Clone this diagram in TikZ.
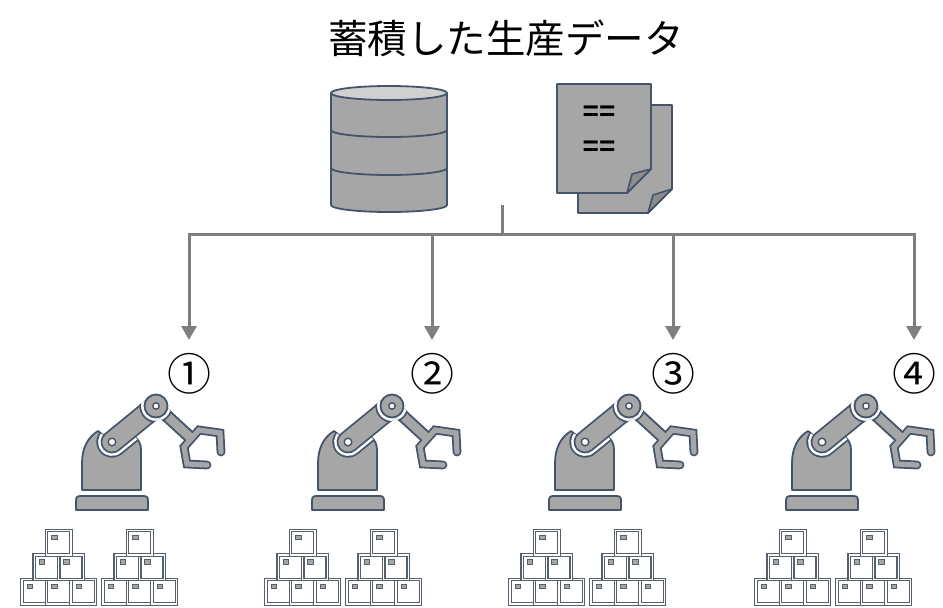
\documentclass[tikz,border=0pt]{standalone}
\usepackage{fontspec}
\newfontfamily\cjk{Noto Sans CJK JP}
\newfontfamily\latinsans{Liberation Sans}
\usetikzlibrary{arrows.meta}

\definecolor{partfill}{HTML}{A6A6A6}
\definecolor{partline}{HTML}{44546A}
\definecolor{flapfill}{HTML}{8C8C8C}
\definecolor{capfill}{HTML}{D0D0D0}
\definecolor{connline}{HTML}{7F7F7F}
\definecolor{crateline}{HTML}{56606D}

\tikzset{
  part/.style={fill=partfill, draw=partline, line width=1.8pt, line join=round},
  flap/.style={fill=flapfill, draw=partline, line width=1.6pt, line join=round},
  hole/.style={fill=white, draw=partline, line width=1.4pt},
  conn/.style={draw=connline, line width=3pt},
  crate/.style={fill=white, draw=crateline, line width=1.2pt, double=white, double distance=1.2pt},
  tag/.style={fill=partfill, draw=crateline, line width=0.9pt},
  % industrial robot arm, drawn in the frame of the first station
  robotarm/.pic={
    % floor plate
    \path[part] (76,510) -- (76,501) .. controls (76,497) and (77,496) .. (81,496)
      -- (143,496) .. controls (147,496) and (148,497) .. (148,501) -- (148,510) -- cycle;
    % pedestal
    \path[part] (82,490) -- (82,463) .. controls (82,448) and (88,437) .. (98,431)
      -- (112,442) -- (134,436) .. controls (139,440) and (141,444) .. (141,450)
      -- (141,490) -- cycle;
    % clearance groove cut into the pedestal around the lower arm
    \begin{scope}
      \clip (82,490) -- (82,463) .. controls (82,448) and (88,437) .. (98,431)
        -- (112,442) -- (134,436) .. controls (139,440) and (141,444) .. (141,450)
        -- (141,490) -- cycle;
      \draw[partline, line width=31.4pt, line cap=round] (112,442) -- (156,406);
      \draw[white, line width=27.8pt, line cap=round] (112,442) -- (156,406);
    \end{scope}
    % lower arm
    \draw[partline, line width=22.8pt, line cap=round] (112,442) -- (156,406);
    \draw[partfill, line width=19.2pt, line cap=round] (112,442) -- (156,406);
    % gripper outline
    \draw[partline, line width=8.8pt, line cap=round, line join=miter]
      (207,465) -- (187,464) -- (184,447) -- (199,430) -- (220,433) -- (221,452);
    % forearm
    \path[part, line join=miter, shift={(156,406)}, rotate=-42.5]
      (0,-5.5) rectangle (48.1,5.5);
    % gripper body
    \draw[partfill, line width=5.2pt, line cap=round, line join=miter]
      (207,465) -- (187,464) -- (184,447) -- (199,430) -- (220,433) -- (221,452);
    % clearance ring around the elbow joint
    \begin{scope}
      \clip[shift={(112,442)}, rotate=39.3] (0,-11.5) rectangle (56.85,11.5);
      \fill[partline] (156,406) circle (16.7);
      \fill[white] (156,406) circle (14.9);
    \end{scope}
    \begin{scope}
      \clip[shift={(156,406)}, rotate=-42.5] (0,-6.4) rectangle (48.1,6.4);
      \fill[partline] (156,406) circle (16.7);
      \fill[white] (156,406) circle (14.9);
    \end{scope}
    % joints
    \path[part] (156,406) circle (11.5);
    \path[hole] (156,406) circle (3.2);
    \path[hole] (112,442) circle (3.8);
  },
  % pyramid of six crates, origin at the lower left corner
  crates/.pic={
    \foreach \bx/\by in {0/0, 24.5/0, 49/0, 12.25/-24.5, 36.75/-24.5, 24.5/-49}{
      \path[crate] (\bx,\by) rectangle (\bx+24.5,\by-24.5);
      \path[tag] (\bx+5,\by-20) rectangle (\bx+10.5,\by-15.5);
    }
  }
}

\begin{document}
\begin{tikzpicture}[x=1pt, y=-1pt]
  \useasboundingbox (0,0) rectangle (943,608);

  % heading
  \node[font=\cjk\fontsize{39.5}{44}\selectfont, inner sep=0pt] (title) at (506,38) {蓄積した生産データ};

  % database cylinder
  \path[part] (331,93) -- (331,205) .. controls (331,208.87) and (357,212) .. (389,212)
    .. controls (421,212) and (447,208.87) .. (447,205) -- (447,93) -- cycle;
  \foreach \cy in {130,168}{
    \draw[partline, line width=1.8pt] (331,\cy) .. controls (331,\cy+3.87) and (357,\cy+7) .. (389,\cy+7)
      .. controls (421,\cy+7) and (447,\cy+3.87) .. (447,\cy);
  }
  \path[part, fill=capfill] (389,93) ellipse [x radius=58, y radius=7];

  % stacked documents
  \path[part] (578,105) -- (672,105) -- (672,189) -- (648,213) -- (578,213) -- cycle;
  \path[flap] (648,213) -- (653,195) -- (672,189) -- cycle;
  \path[part] (557,84) -- (651,84) -- (651,169) -- (627,193) -- (557,193) -- cycle;
  \path[flap] (627,193) -- (632,174) -- (651,169) -- cycle;
  \node[font=\latinsans\bfseries\fontsize{28}{30}\selectfont, inner sep=0pt] (line1) at (599,113) {==};
  \node[font=\latinsans\bfseries\fontsize{28}{30}\selectfont, inner sep=0pt] (line2) at (599,148) {==};

  % distribution bus
  \coordinate (src) at (502,205);
  \coordinate (bus) at (502,234);
  \draw[conn] (src) -- (bus);

  \foreach \k/\ax/\dx/\px/\lbl in {1/189/0/22/①, 2/432/236/266/②, 3/673/473/510/③, 4/914/710/756/④}{
    \coordinate (a\k) at (\ax,340);
    \draw[conn, -{Triangle[length=14pt, width=15pt]}] (bus) -| (a\k);
    \node[font=\cjk\fontsize{44}{46}\selectfont, inner sep=0pt] (n\k) at (\ax,374) {\lbl};
    \pic at (\dx,0) {robotarm};
    \pic at (\px,604) {crates};
    \pic at (\px+81,604) {crates};
  }
\end{tikzpicture}
\end{document}
